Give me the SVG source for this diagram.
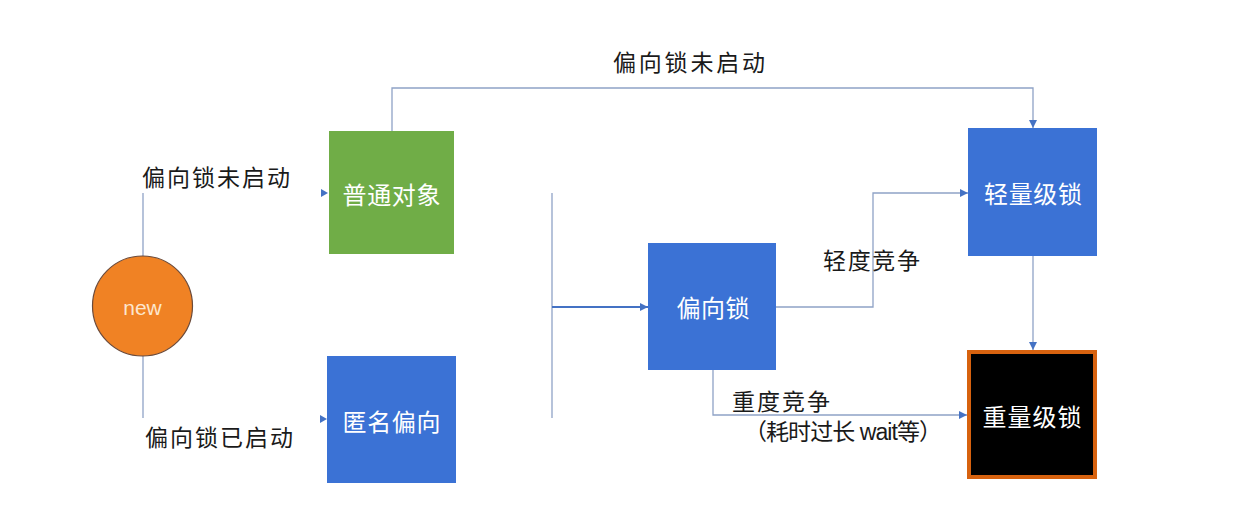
<svg xmlns="http://www.w3.org/2000/svg" width="1246" height="514" viewBox="0 0 1246 514">
<style>
text{font-family:"Liberation Sans","Noto Sans CJK SC",sans-serif;dominant-baseline:central}
.lbl{font-size:23px;fill:#1a1a1a}
.box{font-size:24px;fill:#ffffff;text-anchor:middle}
.ln{fill:none;stroke:#8fa2c6;stroke-width:1.3}
.ar{fill:#4472c4}
</style>
<defs>
<marker id="ah" viewBox="0 0 8 8" refX="8" refY="4" markerWidth="8" markerHeight="8" markerUnits="userSpaceOnUse" orient="auto">
<path d="M0,0 L8,4 L0,8 z" fill="#4472c4"/>
</marker>
</defs>
<rect width="1246" height="514" fill="#ffffff"/>
<g id="connectors">
<path class="ln" d="M143,256 V193"/>
<path class="ar" d="M321,189 L328,193 L321,197 z"/>
<path class="ln" d="M143,356 V418"/>
<path class="ar" d="M320,415 L327,419 L320,423 z"/>
<path class="ln" d="M392,131 V88 H1033 V128" marker-end="url(#ah)"/>
<path class="ln" d="M552,193 V418"/>
<path d="M552,307 H648" fill="none" stroke="#4472c4" stroke-width="1.8" marker-end="url(#ah)"/>
<path class="ln" d="M776,307 H873 V193 H968" marker-end="url(#ah)"/>
<path class="ln" d="M1033,256 V350" marker-end="url(#ah)"/>
<path class="ln" d="M713,370 V415 H967" marker-end="url(#ah)"/>
</g>
<g id="label-top"><text class="lbl" x="613" y="63" textLength="152" lengthAdjust="spacing">偏向锁未启动</text></g>
<g id="label-unbiased"><text class="lbl" x="142" y="178" textLength="148" lengthAdjust="spacing">偏向锁未启动</text></g>
<g id="label-biased"><text class="lbl" x="145" y="438" textLength="148" lengthAdjust="spacing">偏向锁已启动</text></g>
<g id="label-light"><text class="lbl" x="823" y="261" textLength="97" lengthAdjust="spacing">轻度竞争</text></g>
<g id="label-heavy">
<text class="lbl" x="732" y="402" textLength="98" lengthAdjust="spacing">重度竞争</text>
<text class="lbl" x="744" y="432" textLength="198" lengthAdjust="spacing">（耗时过长 wait等）</text>
</g>
<g id="node-new">
<circle cx="142.5" cy="306" r="50" fill="#f08224" stroke="#6b4a3a" stroke-width="1.2"/>
<text x="142.5" y="307" font-size="21" fill="#fde6cc" text-anchor="middle">new</text>
</g>
<g id="node-normal">
<rect x="329" y="131" width="125" height="123" fill="#70ad47"/>
<text class="box" x="391.5" y="195" textLength="98" lengthAdjust="spacing">普通对象</text>
</g>
<g id="node-anon">
<rect x="327" y="356" width="129" height="127" fill="#3b72d5"/>
<text class="box" x="391.5" y="422" textLength="98" lengthAdjust="spacing">匿名偏向</text>
</g>
<g id="node-biased">
<rect x="648" y="243" width="128" height="127" fill="#3b72d5"/>
<text class="box" x="713" y="308" textLength="73" lengthAdjust="spacing">偏向锁</text>
</g>
<g id="node-light">
<rect x="968" y="128" width="129" height="128" fill="#3b72d5"/>
<text class="box" x="1033" y="194" textLength="98" lengthAdjust="spacing">轻量级锁</text>
</g>
<g id="node-heavy">
<rect x="969" y="352" width="126" height="125" fill="#000000" stroke="#d7620f" stroke-width="4"/>
<text class="box" x="1032" y="417" textLength="99" lengthAdjust="spacing">重量级锁</text>
</g>
</svg>
